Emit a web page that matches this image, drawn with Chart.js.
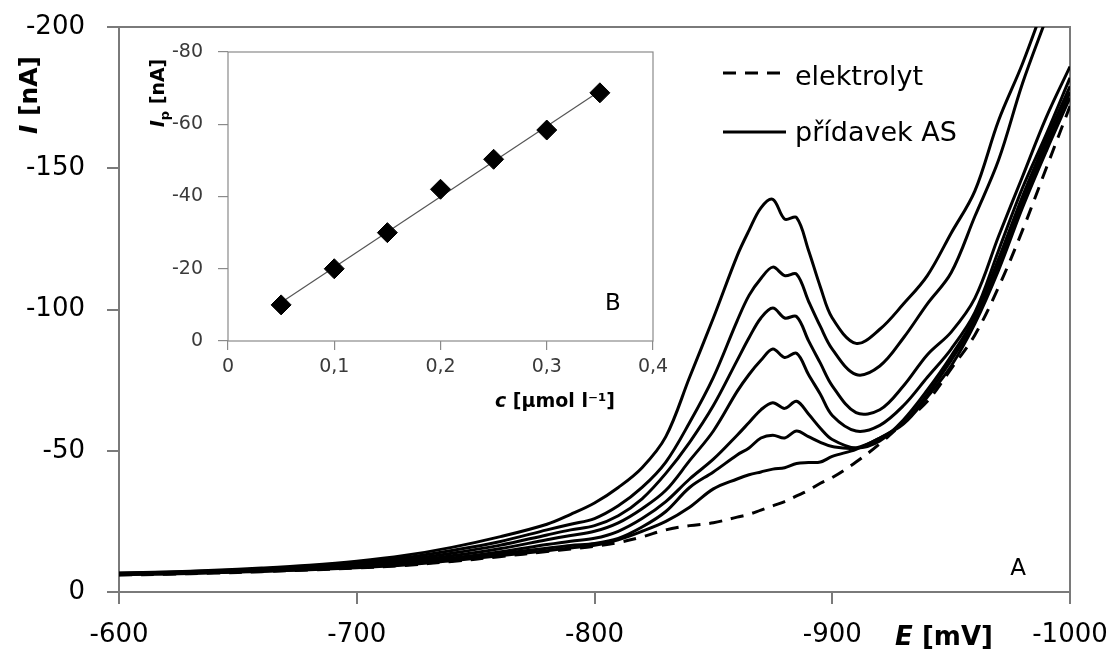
<!DOCTYPE html>
<html>
<head>
<meta charset="utf-8">
<script src="https://cdn.jsdelivr.net/npm/chart.js@4.4.0/dist/chart.umd.min.js"></script>
<style>
  html, body { margin: 0; padding: 0; background: #fff; }
  #wrap { position: relative; width: 1114px; height: 651px; }
  #main { position: absolute; left: 0; top: 0; }
  #inset { position: absolute; left: 140px; top: 35px; }
</style>
</head>
<body>
<div id="wrap">
  <canvas id="main" width="1114" height="651"></canvas>
  <canvas id="inset" width="545" height="385"></canvas>
</div>
<script>
// potenciál E [mV]
const potencial = [-600, -620, -640, -660, -680, -700, -720, -740, -760, -780, -790, -800, -810, -820, -830, -840, -850,
  -860, -865, -870, -875, -880, -885, -890, -895, -900, -910, -920, -930, -940, -950, -960, -970, -980, -990, -1000];

// proud I [nA] - samotný elektrolyt
const elektrolyt = [-6, -6.3, -6.7, -7.2, -7.8, -8.5, -9.4, -10.8, -12.5, -14.3, -15.2, -16.2, -17.5, -19.5, -22, -23.5, -24.5,
  -26.5, -27.5, -29, -30.5, -32, -34, -36, -38.5, -40.5, -46, -52.5, -60, -67.5, -79, -91, -108, -128, -150, -172];

// proud I [nA] - postupné přídavky AS
const as005 = [-6.1, -6.4, -6.8, -7.3, -7.9, -8.6, -9.6, -11.1, -12.8, -14.6, -15.6, -16.5, -18.5, -21.5, -25, -30, -36.5,
  -40, -41.5, -42.5, -43.5, -44, -45.5, -45.8, -46, -48, -50.5, -54.5, -59.5, -69, -80, -95, -114, -136, -156, -175];
const as010 = [-6.2, -6.5, -6.9, -7.4, -8, -8.8, -9.9, -11.6, -13.5, -15.5, -16.5, -17.2, -19, -23, -28.5, -37, -42.5,
  -48.5, -51, -54.5, -55.5, -54.5, -57, -55, -53, -51.5, -51, -54.5, -60, -70, -82, -96, -116, -138, -158, -177];
const as015 = [-6.3, -6.6, -7, -7.5, -8.1, -9, -10.2, -12, -14.2, -16.8, -18, -19, -21.5, -26, -32, -40, -47,
  -55.5, -60, -64.5, -67, -65, -67.5, -63, -58, -54, -51, -53.5, -61, -71.5, -83.5, -97.5, -118, -140, -160, -179];
const as020 = [-6.4, -6.7, -7.1, -7.7, -8.4, -9.4, -10.8, -12.8, -15.3, -18.5, -20, -21.5, -24.5, -29.5, -36, -46.5, -57,
  -71, -77, -82, -86, -83, -84.5, -77, -70, -62.5, -57, -59, -66, -76, -86, -99, -121, -143, -162, -182];
const as025 = [-6.5, -6.8, -7.2, -7.9, -8.7, -9.8, -11.4, -13.7, -16.5, -20.2, -22, -23.5, -27, -33, -42, -53, -66,
  -82, -90, -97, -100.5, -97, -97.5, -89, -81, -73, -63.5, -64.5, -73, -84, -92, -104, -126, -147, -168, -186];
const as030 = [-6.6, -7, -7.5, -8.2, -9.1, -10.3, -12.1, -14.7, -17.8, -22, -24, -26, -30.5, -37, -46, -60, -76,
  -96, -105, -111, -115, -112, -112.5, -103, -94, -86, -77, -80, -90, -102, -113, -133, -153, -180, -203, -226];
const as035 = [-6.7, -7.1, -7.7, -8.5, -9.5, -10.9, -12.9, -15.8, -19.5, -24, -27.5, -31.5, -37, -44, -55, -76, -97,
  -119, -128, -136, -139, -132, -132.5, -121, -108, -97, -88, -93, -102, -112, -127, -142, -167, -187, -210, -235];

const legendaPopisky = ['elektrolyt', 'přídavek AS'];

// kalibrace (vložený graf B)
const koncentrace = [0.05, 0.1, 0.15, 0.2, 0.25, 0.3, 0.35]; // c [µmol l-1]
const proudPiku = [-10, -20, -30, -42, -50.3, -58.4, -68.7]; // Ip [nA]

const pismo = 'DejaVu Sans';

function body(ys) {
  return potencial.map((e, i) => ({ x: e, y: ys[i] }));
}

// rámeček kolem plochy grafu
const ramecek = {
  id: 'ramecek',
  beforeDatasetsDraw(chart, args, opts) {
    const { ctx, chartArea: a } = chart;
    ctx.save();
    ctx.strokeStyle = opts.color;
    ctx.lineWidth = opts.width;
    ctx.strokeRect(a.left, a.top, a.right - a.left, a.bottom - a.top);
    ctx.restore();
  }
};

// vykreslí text složený z kousků s různým řezem písma, vycentrovaný na (x, y)
function textKousky(ctx, x, y, kousky, uhel) {
  ctx.save();
  ctx.translate(x, y);
  if (uhel) ctx.rotate(uhel);
  ctx.textBaseline = 'alphabetic';
  ctx.textAlign = 'left';
  let sirka = 0;
  kousky.forEach(k => { ctx.font = k.font; sirka += ctx.measureText(k.t).width; });
  let px = -sirka / 2;
  kousky.forEach(k => {
    ctx.font = k.font;
    ctx.fillStyle = k.barva || '#000';
    ctx.fillText(k.t, px, k.dy || 0);
    px += ctx.measureText(k.t).width;
  });
  ctx.restore();
}

// pevná šířka/výška os, bez automatického odsazení kvůli popiskům
const pevnaVyska = h => s => { s.height = h; s.paddingLeft = 0; s.paddingRight = 0; };
const pevnaSirka = w => s => { s.width = w; s.paddingTop = 0; s.paddingBottom = 0; };

const popiskyHlavni = {
  id: 'popiskyHlavni',
  afterDraw(chart) {
    const ctx = chart.ctx;
    // osa y
    textKousky(ctx, 37, 95, [
      { t: 'I', font: `italic bold 25px "${pismo}"` },
      { t: ' [nA]', font: `bold 25px "${pismo}"` }
    ], -Math.PI / 2);
    // osa x
    textKousky(ctx, 944, 645, [
      { t: 'E', font: `italic bold 26px "${pismo}"` },
      { t: ' [mV]', font: `bold 26px "${pismo}"` }
    ]);
    // písmeno A
    textKousky(ctx, 1018, 575, [{ t: 'A', font: `23px "${pismo}"` }]);

    // legenda
    ctx.save();
    ctx.strokeStyle = '#000';
    ctx.lineWidth = 3;
    ctx.setLineDash([13, 9]);
    ctx.beginPath(); ctx.moveTo(723, 73); ctx.lineTo(786, 73); ctx.stroke();
    ctx.setLineDash([]);
    ctx.beginPath(); ctx.moveTo(723, 132); ctx.lineTo(786, 132); ctx.stroke();
    ctx.fillStyle = '#000';
    ctx.font = `27px "${pismo}"`;
    ctx.textAlign = 'left';
    ctx.textBaseline = 'alphabetic';
    ctx.fillText(legendaPopisky[0], 795, 85);
    ctx.fillText(legendaPopisky[1], 795, 141);
    ctx.restore();
  }
};

const krivky = [as005, as010, as015, as020, as025, as030, as035];

const datasety = [{
  label: legendaPopisky[0],
  data: body(elektrolyt),
  borderDash: [13, 9]
}].concat(krivky.map(k => ({
  label: legendaPopisky[1],
  data: body(k)
})));

new Chart(document.getElementById('main'), {
  type: 'line',
  data: { datasets: datasety },
  options: {
    responsive: false,
    animation: false,
    events: [],
    layout: { padding: { left: 0, right: 44, top: 27, bottom: 0 } },
    elements: {
      point: { radius: 0 },
      line: { tension: 0.35, borderWidth: 3, borderColor: '#000', borderJoinStyle: 'round', borderCapStyle: 'butt', fill: false }
    },
    plugins: {
      legend: { display: false },
      tooltip: { enabled: false },
      ramecek: { color: '#7a7a7a', width: 2 }
    },
    scales: {
      x: {
        type: 'linear',
        reverse: true,
        min: -1000,
        max: -600,
        ticks: {
          stepSize: 100,
          maxRotation: 0,
          padding: 16,
          color: '#000',
          font: { family: pismo, size: 26 },
          callback: v => String(v)
        },
        grid: { drawOnChartArea: false, drawTicks: true, tickLength: 12, color: '#7a7a7a', lineWidth: 2 },
        border: { display: false },
        afterFit: pevnaVyska(59)
      },
      y: {
        type: 'linear',
        reverse: true,
        min: -200,
        max: 0,
        ticks: {
          stepSize: 50,
          padding: 22,
          color: '#000',
          font: { family: pismo, size: 26 },
          callback: v => String(v)
        },
        grid: { drawOnChartArea: false, drawTicks: true, tickLength: 12, color: '#7a7a7a', lineWidth: 2 },
        border: { display: false },
        afterFit: pevnaSirka(119)
      }
    }
  },
  plugins: [ramecek, popiskyHlavni]
});

// lineární regrese kalibrační závislosti
const n = koncentrace.length;
const mx = koncentrace.reduce((s, v) => s + v, 0) / n;
const my = proudPiku.reduce((s, v) => s + v, 0) / n;
let sxy = 0, sxx = 0;
koncentrace.forEach((c, i) => { sxy += (c - mx) * (proudPiku[i] - my); sxx += (c - mx) * (c - mx); });
const smernice = sxy / sxx;
const usek = my - smernice * mx;
const primka = [koncentrace[0], koncentrace[n - 1]].map(c => ({ x: c, y: usek + smernice * c }));

const popiskyVlozeny = {
  id: 'popiskyVlozeny',
  afterDraw(chart) {
    const ctx = chart.ctx;
    textKousky(ctx, 24, 58, [
      { t: 'I', font: `italic bold 19px "${pismo}"` },
      { t: 'p', font: `bold 13px "${pismo}"`, dy: 5 },
      { t: ' [nA]', font: `bold 19px "${pismo}"` }
    ], -Math.PI / 2);
    textKousky(ctx, 415, 372, [
      { t: 'c', font: `italic bold 19px "${pismo}"` },
      { t: ' [µmol l⁻¹]', font: `bold 19px "${pismo}"` }
    ]);
    textKousky(ctx, 473, 275, [{ t: 'B', font: `23px "${pismo}"` }]);
  }
};

new Chart(document.getElementById('inset'), {
  type: 'scatter',
  data: {
    datasets: [{
      type: 'line',
      data: primka,
      borderColor: '#555',
      borderWidth: 1.2,
      pointRadius: 0,
      order: 2
    }, {
      data: koncentrace.map((c, i) => ({ x: c, y: proudPiku[i] })),
      pointStyle: 'rectRot',
      pointRadius: 10,
      backgroundColor: '#000',
      borderColor: '#000',
      borderWidth: 1,
      order: 1
    }]
  },
  options: {
    responsive: false,
    animation: false,
    events: [],
    layout: { padding: { left: 0, right: 32, top: 17, bottom: 0 } },
    plugins: {
      legend: { display: false },
      tooltip: { enabled: false },
      ramecek: { color: '#8a8a8a', width: 1.2 }
    },
    scales: {
      x: {
        type: 'linear',
        min: 0,
        max: 0.4,
        ticks: {
          stepSize: 0.1,
          maxRotation: 0,
          padding: 6,
          color: '#3a3a3a',
          font: { family: pismo, size: 19 },
          callback: v => v === 0 ? '0' : v.toFixed(1).replace('.', ',')
        },
        grid: { drawOnChartArea: false, drawTicks: true, tickLength: 9, color: '#8a8a8a', lineWidth: 1.2 },
        border: { display: false },
        afterFit: pevnaVyska(79)
      },
      y: {
        type: 'linear',
        reverse: true,
        min: -80,
        max: 0,
        ticks: {
          stepSize: 20,
          padding: 15,
          color: '#3a3a3a',
          font: { family: pismo, size: 19 },
          callback: v => String(v)
        },
        grid: { drawOnChartArea: false, drawTicks: true, tickLength: 10, color: '#8a8a8a', lineWidth: 1.2 },
        border: { display: false },
        afterFit: pevnaSirka(88)
      }
    }
  },
  plugins: [ramecek, popiskyVlozeny]
});
</script>
</body>
</html>
